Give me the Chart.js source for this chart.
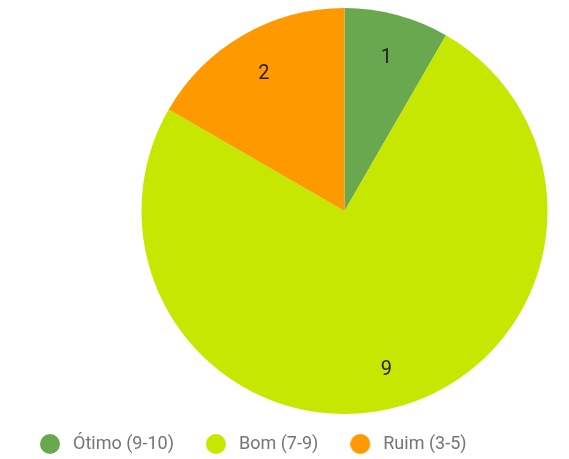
<!DOCTYPE html>
<html>
<head>
<meta charset="utf-8">
<script src="https://cdn.jsdelivr.net/npm/chart.js@4/dist/chart.umd.min.js"></script>
<style>
html,body{margin:0;padding:0;background:#fff;}
#wrap{width:569px;height:459px;}
</style>
</head>
<body>
<div id="wrap"><canvas id="c" width="569" height="459"></canvas></div>
<script>
const categories = ['Ótimo (9-10)', 'Bom (7-9)', 'Ruim (3-5)'];
const values = [1, 9, 2];
const sliceColors = ['#6aa84f', '#c5e700', '#ff9900'];

function makeDot(color) {
  const cv = document.createElement('canvas');
  cv.width = 30; cv.height = 22;
  const g = cv.getContext('2d');
  g.fillStyle = color;
  g.beginPath();
  g.arc(10, 11, 10, 0, Math.PI * 2);
  g.fill();
  return cv;
}

const sliceLabels = {
  id: 'sliceLabels',
  afterDatasetsDraw(chart) {
    const ctx = chart.ctx;
    const meta = chart.getDatasetMeta(0);
    ctx.save();
    ctx.font = '20px Roboto';
    ctx.fillStyle = '#222222';
    ctx.textAlign = 'center';
    ctx.textBaseline = 'alphabetic';
    meta.data.forEach((arc, i) => {
      const p = arc.getProps(['x', 'y', 'startAngle', 'endAngle', 'outerRadius'], true);
      const mid = (p.startAngle + p.endAngle) / 2;
      const r = p.outerRadius * 0.795;
      ctx.fillText(String(chart.data.datasets[0].data[i]), p.x + Math.cos(mid) * r, p.y + Math.sin(mid) * r + 8);
    });
    ctx.restore();
  }
};

new Chart(document.getElementById('c'), {
  type: 'pie',
  data: {
    labels: categories,
    datasets: [{
      data: values,
      backgroundColor: sliceColors,
      borderWidth: 0,
      radius: 203,
      clip: false
    }]
  },
  options: {
    responsive: false,
    animation: false,
    layout: { padding: { left: 8, right: 0, top: 25, bottom: -4 } },
    plugins: {
      tooltip: { enabled: false },
      title: {
        display: true,
        text: '',
        position: 'left',
        fullSize: false,
        font: { size: 10, lineHeight: 1 },
        padding: { top: 51, bottom: 51 }
      },
      legend: {
        position: 'bottom',
        align: 'start',
        labels: {
          usePointStyle: true,
          boxWidth: 18,
          boxHeight: 18,
          padding: 38,
          color: '#757575',
          font: { family: 'Roboto', size: 18 },
          generateLabels(chart) {
            const items = Chart.overrides.doughnut.plugins.legend.labels.generateLabels(chart);
            items.forEach((it, i) => { it.pointStyle = makeDot(sliceColors[i]); });
            return items;
          }
        }
      }
    }
  },
  plugins: [sliceLabels]
});
</script>
</body>
</html>
